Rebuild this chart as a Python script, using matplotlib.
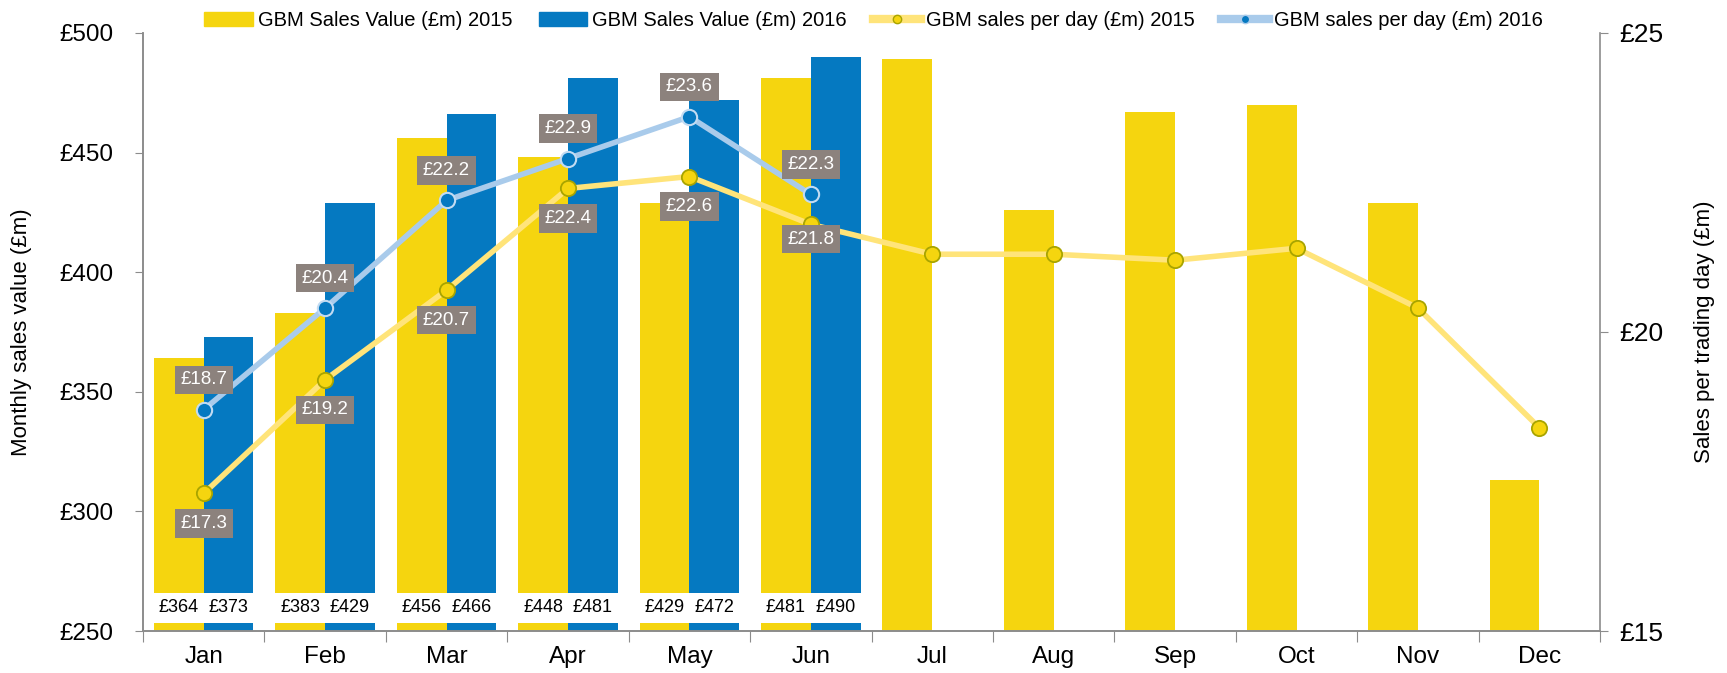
import numpy as np
import matplotlib
matplotlib.use('Agg')
import matplotlib.pyplot as plt
from matplotlib.lines import Line2D
from matplotlib.patches import Patch

plt.rcParams['font.family'] = ['Liberation Sans', 'DejaVu Sans']

months = ['Jan', 'Feb', 'Mar', 'Apr', 'May', 'Jun', 'Jul', 'Aug', 'Sep', 'Oct', 'Nov', 'Dec']
value_2015 = [364, 383, 456, 448, 429, 481, 489, 426, 467, 470, 429, 313]
value_2016 = [373, 429, 466, 481, 472, 490]
perday_2015 = [17.3, 19.2, 20.7, 22.4, 22.6, 21.8, 21.3, 21.3, 21.2, 21.4, 20.4, 18.4]
perday_2016 = [18.7, 20.4, 22.2, 22.9, 23.6, 22.3]

yellow = '#F5D50F'
blue = '#0579C1'
line_y = '#FFE47A'
line_b = '#A9CBEB'
grey = '#8C827D'
spine_c = '#8C8C8C'

fig = plt.figure(figsize=(17.27, 6.73), dpi=100)
ax = fig.add_axes([0.0828, 0.0624, 0.8437, 0.8886])
ax2 = ax.twinx()

x = np.arange(len(months))
x16 = np.arange(len(value_2016))
w = 0.41

ax.bar(x - w / 2, value_2015, w, color=yellow, zorder=2)
ax.bar(x16 + w / 2, value_2016, w, color=blue, zorder=2)

# white strip that holds the bar value labels (first half-year only)
n = len(value_2016)
ax.bar(np.concatenate([x16 - w / 2, x16 + w / 2]), [12.5] * (2 * n), w,
       bottom=253.5, color='white', zorder=3)
narrow = ['Liberation Sans Narrow', 'Liberation Sans']
for i in range(n):
    ax.text(i - w / 2, 259.7, f'£{value_2015[i]}', ha='center', va='center',
            fontsize=13, zorder=4, family=narrow)
    ax.text(i + w / 2, 259.7, f'£{value_2016[i]}', ha='center', va='center',
            fontsize=13, zorder=4, family=narrow)

ax.set_ylim(250, 500)
ax.set_xlim(-0.5, len(months) - 0.5)
ax.set_yticks([250, 300, 350, 400, 450, 500])
ax.set_yticklabels([f'£{v}' for v in [250, 300, 350, 400, 450, 500]], fontsize=17.5)
ax.set_xticks(np.arange(len(months) + 1) - 0.5)
ax.set_xticklabels([])
ax.set_xticks(x, minor=True)
ax.set_xticklabels(months, minor=True, fontsize=17.5)
ax.tick_params(axis='x', which='major', length=8, color=spine_c, direction='out')
ax.tick_params(axis='x', which='minor', length=0, pad=11)
ax.tick_params(axis='y', length=6, color=spine_c, pad=15)
ax.set_ylabel('Monthly sales value (£m)', fontsize=16, labelpad=20)

for a in (ax, ax2):
    a.spines['top'].set_visible(False)
    for s in ('left', 'right', 'bottom'):
        a.spines[s].set_color(spine_c)
        a.spines[s].set_linewidth(1.2)
ax.spines['right'].set_visible(False)

ax2.plot(x, perday_2015, color=line_y, lw=4, marker='o', ms=11,
         mfc=yellow, mec='#A8A400', mew=1.3, zorder=3)
ax2.plot(x16, perday_2016, color=line_b, lw=4, marker='o', ms=11,
         mfc=blue, mec='#C2DBF2', mew=1.5, zorder=4)

box = dict(boxstyle='square,pad=0.3', fc=grey, ec='none')
offs_2015 = [-30, -30, -30, -30, -30, -15]
for i in range(n):
    ax2.annotate(f'£{perday_2015[i]:.1f}', (i, perday_2015[i]), xytext=(0, offs_2015[i] * 0.72),
                 textcoords='offset points', ha='center', va='center', color='white',
                 fontsize=13.5, bbox=box, zorder=6)
    ax2.annotate(f'£{perday_2016[i]:.1f}', (i, perday_2016[i]), xytext=(0, 30 * 0.72),
                 textcoords='offset points', ha='center', va='center', color='white',
                 fontsize=13.5, bbox=box, zorder=6)

ax2.set_ylim(15, 25)
ax2.set_yticks([15, 20, 25])
ax2.set_yticklabels(['£15', '£20', '£25'], fontsize=19)
ax2.tick_params(axis='y', length=6, color=spine_c, pad=8)
ax2.set_ylabel('Sales per trading day (£m)', fontsize=16, rotation=90, labelpad=22)

handles = [Patch(color=yellow), Patch(color=blue),
           Line2D([], [], color=line_y, lw=6, marker='o', ms=6, mfc=yellow, mec='#A8A400'),
           Line2D([], [], color=line_b, lw=6, marker='o', ms=6, mfc=blue, mec=line_b)]
labels = ['GBM Sales Value (£m) 2015', 'GBM Sales Value (£m) 2016',
          'GBM sales per day (£m) 2015', 'GBM sales per day (£m) 2016']
fig.legend(handles, labels, ncol=4, loc='center', bbox_to_anchor=(0.506, 0.97),
           frameon=False, fontsize=14.5, handlelength=2.4, handleheight=0.7,
           columnspacing=1.3, handletextpad=0.25)

fig.savefig('out.png', dpi=100)
